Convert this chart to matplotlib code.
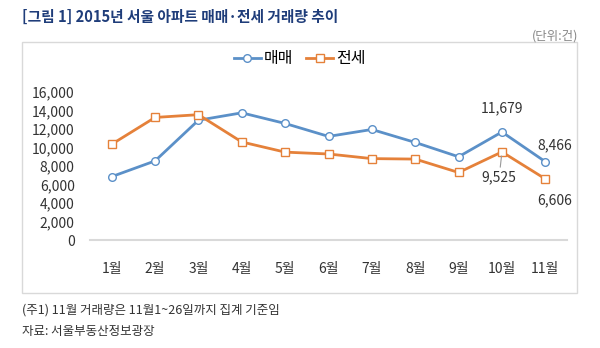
import numpy as np
import matplotlib.pyplot as plt
from matplotlib.patches import Rectangle

plt.rcParams['font.family'] = ['Noto Sans CJK KR', 'DejaVu Sans']

"""Data read off the chart"""
months = ["1월", "2월", "3월", "4월", "5월", "6월", "7월", "8월", "9월", "10월", "11월"]
sales = [6850, 8550, 12950, 13750, 12600, 11200, 11950, 10550, 9000, 11679, 8466]     # 매매
jeonse = [10350, 13250, 13550, 10600, 9500, 9300, 8800, 8750, 7300, 9525, 6606]       # 전세
yticks = [0, 2000, 4000, 6000, 8000, 10000, 12000, 14000, 16000]

blue = "#5B90C8"
orange = "#E5813A"

fig = plt.figure(figsize=(6, 3.48), dpi=100)
ax = fig.add_axes([0.15, 0.3103, 0.795, 0.4253])
x = np.arange(1, len(months) + 1)

ax.plot(x, sales, color=blue, lw=2, marker="o", ms=5.5, mfc="white", mec=blue, mew=1, label="매매")
ax.plot(x, jeonse, color=orange, lw=2, marker="s", ms=5.5, mfc="white", mec=orange, mew=1, label="전세")

ax.set_xlim(0.5, 11.5)
ax.set_ylim(0, 16000)
ax.set_yticks(yticks)
ax.set_yticklabels([f"{v:,}" for v in yticks])
ax.set_xticks(x)
ax.set_xticklabels(months)
ax.tick_params(axis="y", length=0, pad=11, labelsize=10, colors="#333333")
ax.tick_params(axis="x", length=0, pad=16, labelsize=10, colors="#333333")
for s in ["top", "right", "left"]:
    ax.spines[s].set_visible(False)
ax.spines["bottom"].set_color("#d9d9d9")
ax.spines["bottom"].set_linewidth(1.5)
ax.set_facecolor("none")

# data labels for last two months
ax.annotate(f"{sales[9]:,}", (x[9], sales[9]), xytext=(0, 12), textcoords="offset points",
            ha="center", va="bottom", fontsize=10, color="#333333")
ax.annotate(f"{sales[10]:,}", (x[10], sales[10]), xytext=(7, 7), textcoords="offset points",
            ha="center", va="bottom", fontsize=10, color="#333333")
ax.annotate(f"{jeonse[9]:,}", (x[9], jeonse[9]), xytext=(-2, -13), textcoords="offset points",
            ha="center", va="top", fontsize=10, color="#333333",
            arrowprops=dict(arrowstyle="-", color="#999999", lw=0.8, shrinkA=0, shrinkB=3))
ax.annotate(f"{jeonse[10]:,}", (x[10], jeonse[10]), xytext=(7, -10), textcoords="offset points",
            ha="center", va="top", fontsize=10, color="#333333")

leg = ax.legend(loc="upper center", bbox_to_anchor=(0.44, 1.38), ncol=2, frameon=False,
                fontsize=11.5, handlelength=1.7, columnspacing=0.8, handletextpad=0.2)

# frame around the chart
fig.patches.append(Rectangle((22 / 600, 1 - 293 / 348), 555 / 600, 251 / 348,
                             transform=fig.transFigure, fill=False, ec="#d9d9d9", lw=1))

fig.text(22 / 600, 1 - 17 / 348, "[그림 1] 2015년 서울 아파트 매매·전세 거래량 추이",
         fontsize=10.6, fontweight="bold", color="#1f3d7a", va="center", ha="left")
fig.text(578 / 600, 1 - 36 / 348, "(단위:건)", fontsize=9, color="#888888", va="center", ha="right")
fig.text(22 / 600, 1 - 310 / 348, "(주1) 11월 거래량은 11월1~26일까지 집계 기준임",
         fontsize=9, color="#333333", va="center", ha="left")
fig.text(22 / 600, 1 - 331 / 348, "자료: 서울부동산정보광장",
         fontsize=9, color="#333333", va="center", ha="left")

fig.savefig("out.png", dpi=100)
